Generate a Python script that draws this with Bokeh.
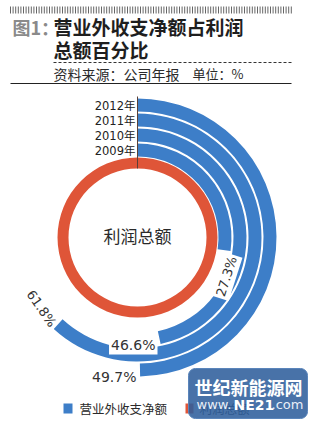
import numpy as np
from bokeh.plotting import figure
from bokeh.models import Range1d, ColumnDataSource
from bokeh.embed import file_html
from bokeh.resources import INLINE
from bokeh.core.properties import value

W, H = 313, 423

# ---- data ----
years = ["2009年", "2010年", "2011年", "2012年"]
shares = [27.3, 46.6, 61.8, 49.7]          # 营业外收支净额占利润总额 %
share_labels = ["27.3%", "46.6%", "61.8%", "49.7%"]
center_label = "利润总额"
fig_label = "图1："
title_lines = ["营业外收支净额占利润", "总额百分比"]
source_note = "资料来源：公司年报"
unit_note = "单位：%"
legend_labels = ["营业外收支净额", "利润总额"]
wm_line1 = "世纪新能源网"
wm_parts = ["www.", "NE21", ".com"]

BLUE = "#3d7ec8"
RED = "#df5538"
CJK = value("Noto Sans CJK SC")
SANS = value("DejaVu Sans, Noto Sans CJK SC, sans-serif")


def Y(py):
    return H - py


p = figure(width=W, height=H, x_range=Range1d(0, W), y_range=Range1d(0, H),
           output_backend="svg", toolbar_location=None, min_border=0,
           x_axis_type=None, y_axis_type=None)
p.outline_line_color = None
p.background_fill_color = "white"
p.border_fill_color = "white"

# ---- header ----
xs = np.arange(10, 292, 2.6)
p.segment(x0=xs, y0=[Y(6)] * len(xs), x1=xs, y1=[Y(13)] * len(xs),
          line_color="#555555", line_width=0.9)

p.text(x=[12], y=[Y(26)], text=[fig_label], text_font=CJK, text_font_size="18px",
       text_font_style="bold", text_color="#8a8a8a", text_baseline="middle")
p.text(x=[53, 53], y=[Y(26), Y(49)], text=title_lines, text_font=CJK,
       text_font_size="19px", text_font_style="bold", text_color="#1e1e1e",
       text_baseline="middle")
p.segment(x0=[53], y0=[Y(62)], x1=[291], y1=[Y(62)], line_color="#333333",
          line_width=1, line_dash="3 2")
p.text(x=[53], y=[Y(73)], text=[source_note], text_font=CJK, text_font_size="14px",
       text_color="#2a2a2a", text_baseline="middle")
p.text(x=[192], y=[Y(73)], text=[unit_note], text_font=CJK, text_font_size="13px",
       text_color="#2a2a2a", text_baseline="middle")
p.segment(x0=[10], y0=[Y(83)], x1=[291], y1=[Y(83)], line_color="#222222", line_width=1.2)

# ---- rings ----
cx, cy = 137, Y(237)
inner = [81, 96, 111, 126]
outer = [94, 109, 124, 139]
src = ColumnDataSource(dict(
    x=[cx] * 4, y=[cy] * 4, ir=inner, orr=outer,
    sa=[np.pi / 2 - 2 * np.pi * s / 100 for s in shares],
    ea=[np.pi / 2] * 4))
p.annular_wedge(x="x", y="y", inner_radius="ir", outer_radius="orr",
                start_angle="sa", end_angle="ea", direction="anticlock",
                fill_color=BLUE, line_color=None, source=src)

p.annulus(x=[cx], y=[cy], inner_radius=69, outer_radius=80,
          fill_color=RED, line_color=None)

p.segment(x0=[cx], y0=[Y(96)], x1=[cx], y1=[Y(168)], line_color="#5a4038", line_width=1)

# year labels
p.text(x=[135] * 4, y=[Y(150), Y(135), Y(120), Y(105)], text=years, text_font=SANS,
       text_font_size="11.5px", text_color="#222222", text_align="right",
       text_baseline="middle")

p.text(x=[cx], y=[cy + 2], text=[center_label], text_font=CJK, text_font_size="17px",
       text_color="#2a2a2a", text_align="center", text_baseline="middle")

# percent labels
p.text(x=[226], y=[Y(276)], text=[share_labels[0]], angle=[1.26],
       text_font=value("DejaVu Sans"), text_font_size="13px", text_color="#333333",
       text_align="center", text_baseline="middle",
       background_fill_color="white", padding=2)
p.text(x=[157], y=[Y(344)], text=[share_labels[1]],
       text_font=value("DejaVu Sans"), text_font_size="14px", text_color="#333333",
       text_align="right", text_baseline="middle",
       background_fill_color="white", padding=2)
p.text(x=[41], y=[Y(308)], text=[share_labels[2]], angle=[-0.96],
       text_font=value("DejaVu Sans"), text_font_size="13px", text_color="#333333",
       text_align="center", text_baseline="middle")
p.text(x=[136], y=[Y(376)], text=[share_labels[3]],
       text_font=value("DejaVu Sans"), text_font_size="14px", text_color="#333333",
       text_align="right", text_baseline="middle")

# ---- legend ----
p.quad(left=[63, 185], right=[72, 193], bottom=[Y(413), Y(413)], top=[Y(403), Y(403)],
       fill_color=[BLUE, RED], line_color=None)
p.text(x=[79, 199], y=[Y(408), Y(408)], text=legend_labels, text_font=CJK,
       text_font_size="12.5px", text_color="#2a2a2a", text_baseline="middle")

# ---- watermark ----
x0w, x1w, ybw, ytw, r = 188, 307, Y(418), Y(368), 7
px, py = [], []
for (ccx, ccy, a0) in [(x1w - r, ytw - r, 0), (x0w + r, ytw - r, 90),
                       (x0w + r, ybw + r, 180), (x1w - r, ybw + r, 270)]:
    t = np.radians(np.linspace(a0, a0 + 90, 8))
    px.extend(ccx + r * np.cos(t))
    py.extend(ccy + r * np.sin(t))
p.patch(px, py, fill_color="#2f5f9c", fill_alpha=0.88, line_color="#5a85bb", line_width=1)
p.text(x=[248], y=[Y(386)], text=[wm_line1], text_font=CJK, text_font_size="18px",
       text_font_style="bold", text_color="white", text_align="center",
       text_baseline="middle")
p.text(x=[196], y=[Y(404)], text=[wm_parts[0]], text_font=value("DejaVu Sans"),
       text_font_size="13px", text_color="#e8eef8", text_baseline="middle")
p.text(x=[233], y=[Y(404)], text=[wm_parts[1]], text_font=value("DejaVu Sans"),
       text_font_size="14px", text_font_style="bold", text_color="white",
       text_baseline="middle")
p.text(x=[271], y=[Y(404)], text=[wm_parts[2]], text_font=value("DejaVu Sans"),
       text_font_size="13px", text_color="#e8eef8", text_baseline="middle")

open("out.html", "w").write(file_html(p, INLINE))
